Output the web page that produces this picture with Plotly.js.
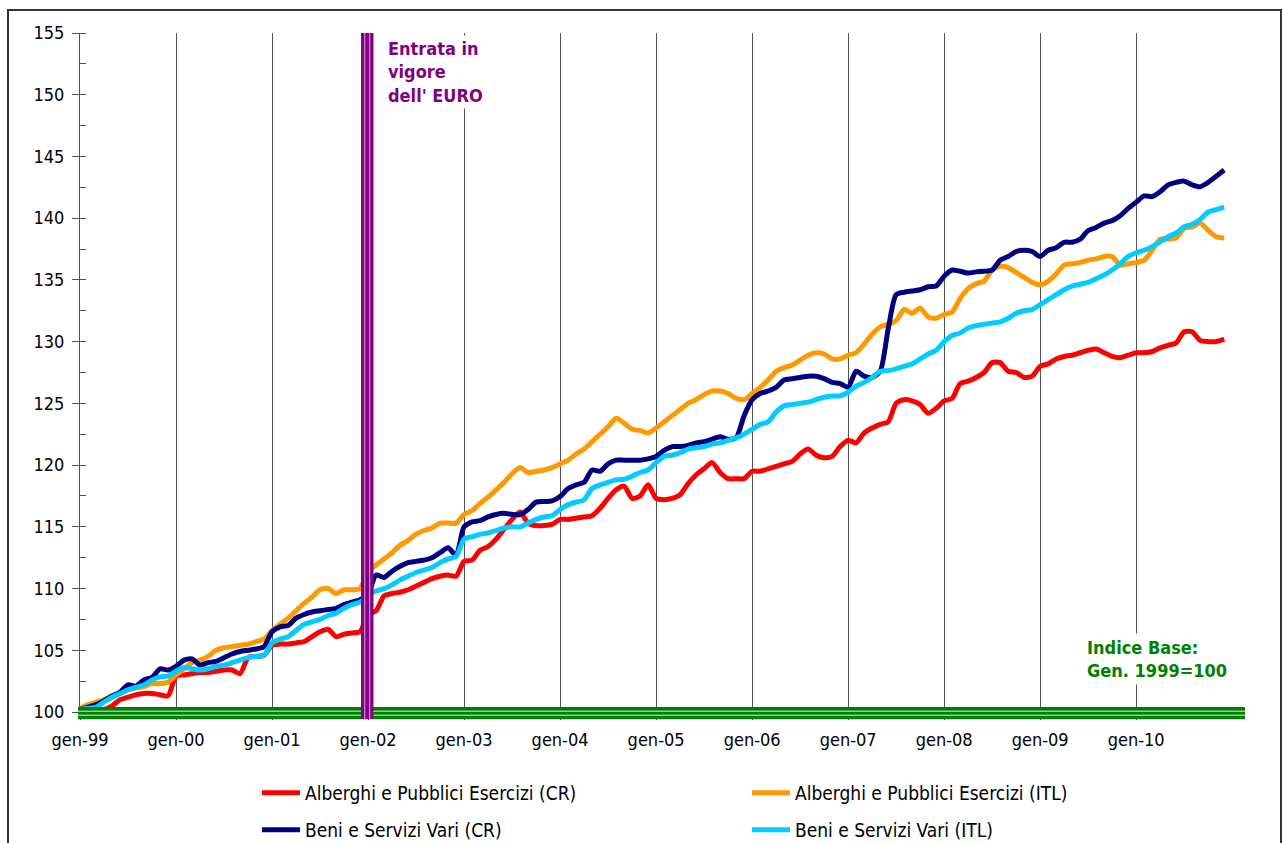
<!DOCTYPE html>
<html>
<head>
<meta charset="utf-8">
<script src="https://cdn.plot.ly/plotly-3.0.1.min.js"></script>
<style>
html,body{margin:0;padding:0;background:#fff;overflow:hidden;}
#chart{width:1284px;height:843px;}
</style>
</head>
<body>
<div id="chart"></div>
<script>
// ---- categories ----
const monthNames = ['gen','feb','mar','apr','mag','giu','lug','ago','set','ott','nov','dic'];
const yearLabels = ['99','00','01','02','03','04','05','06','07','08','09','10'];
const categories = [];
yearLabels.forEach(y => monthNames.forEach(m => categories.push(m + '-' + y)));
const tickLabels = yearLabels.map(y => 'gen-' + y);

// ---- series (index Gen. 1999 = 100) ----
const alberghiCR = [
 100.0,100.0,100.1,100.2,100.5,101.0,101.2,101.4,101.5,101.5,101.4,101.3,
 102.9,103.0,103.1,103.2,103.2,103.3,103.4,103.4,103.1,104.4,104.5,104.6,
 105.4,105.5,105.5,105.6,105.7,106.1,106.5,106.7,106.1,106.3,106.4,106.5,
 107.9,108.2,109.4,109.6,109.7,109.9,110.2,110.5,110.8,111.0,111.1,111.0,
 112.2,112.3,113.1,113.4,114.0,114.8,115.6,116.2,115.3,115.1,115.1,115.2,
 115.6,115.6,115.7,115.8,115.9,116.5,117.3,118.0,118.3,117.3,117.5,118.4,
 117.3,117.2,117.3,117.6,118.5,119.2,119.7,120.2,119.4,118.9,118.9,118.9,
 119.5,119.5,119.7,119.9,120.1,120.3,120.9,121.3,120.8,120.6,120.7,121.5,
 122.0,121.8,122.6,123.0,123.3,123.5,125.0,125.3,125.2,124.9,124.2,124.6,
 125.2,125.4,126.6,126.8,127.1,127.5,128.3,128.3,127.6,127.5,127.1,127.2,
 128.0,128.2,128.6,128.8,128.9,129.1,129.3,129.4,129.1,128.8,128.7,128.9,
 129.1,129.1,129.2,129.5,129.7,129.9,130.8,130.8,130.1,130.0,130.0,130.2
];
const alberghiITL = [
 100.3,100.6,100.8,101.0,101.3,101.5,101.8,101.95,102.05,102.3,102.3,102.4,
 103.0,103.5,104.0,104.2,104.5,105.0,105.2,105.3,105.4,105.5,105.7,105.9,
 106.6,107.1,107.6,108.2,108.8,109.3,109.9,110.0,109.6,109.9,109.9,110.0,
 111.4,111.9,112.4,112.9,113.5,113.9,114.4,114.7,114.9,115.3,115.3,115.3,
 116.0,116.3,116.9,117.4,118.0,118.6,119.3,119.8,119.4,119.5,119.6,119.8,
 120.1,120.4,120.9,121.3,121.9,122.5,123.1,123.8,123.4,122.9,122.8,122.6,
 123.0,123.5,124.0,124.5,125.0,125.3,125.7,126.0,126.0,125.8,125.4,125.3,
 125.8,126.3,126.9,127.6,127.9,128.1,128.5,128.9,129.1,129.0,128.6,128.6,
 128.9,129.1,129.8,130.6,131.2,131.4,131.7,132.6,132.3,132.7,132.0,131.9,
 132.2,132.4,133.5,134.3,134.7,134.9,135.8,136.1,136.0,135.6,135.2,134.8,
 134.6,134.9,135.5,136.2,136.3,136.4,136.6,136.7,136.9,136.9,136.2,136.3,
 136.4,136.6,137.4,138.3,138.3,138.4,139.2,139.3,139.6,139.0,138.5,138.4
];
const beniCR = [
 100.2,100.4,100.6,100.9,101.3,101.6,102.2,102.1,102.6,102.8,103.5,103.4,
 103.7,104.2,104.3,103.8,104.0,104.1,104.4,104.7,104.9,105.0,105.1,105.3,
 106.5,106.9,107.0,107.6,107.9,108.1,108.2,108.3,108.4,108.7,108.9,109.1,
 109.5,111.1,110.9,111.4,111.8,112.1,112.2,112.3,112.5,112.9,113.3,112.7,
 115.0,115.4,115.5,115.8,116.0,116.1,116.0,116.0,116.4,117.0,117.05,117.1,
 117.45,118.1,118.4,118.6,119.6,119.5,120.1,120.4,120.4,120.4,120.4,120.5,
 120.7,121.2,121.5,121.5,121.6,121.8,121.9,122.1,122.3,122.1,122.2,124.0,
 125.3,125.8,126.0,126.3,126.9,127.0,127.1,127.2,127.2,127.0,126.7,126.6,
 126.3,127.6,127.2,127.1,127.6,131.0,133.8,134.0,134.1,134.2,134.45,134.5,
 135.3,135.8,135.7,135.55,135.65,135.7,135.8,136.6,136.9,137.3,137.4,137.3,
 136.9,137.4,137.6,138.05,138.05,138.3,139.0,139.25,139.6,139.8,140.2,140.8,
 141.3,141.8,141.75,142.15,142.7,142.9,143.0,142.7,142.55,142.9,143.4,143.9
];
const beniITL = [
 100.2,100.3,100.4,100.8,101.2,101.5,101.8,102.0,102.2,102.6,102.85,102.9,
 103.3,103.6,103.5,103.4,103.5,103.7,103.8,104.0,104.2,104.4,104.5,104.6,
 105.6,105.9,106.1,106.6,107.1,107.3,107.5,107.8,108.0,108.4,108.7,108.9,
 109.5,109.8,110.0,110.3,110.7,111.0,111.3,111.5,111.7,112.1,112.4,112.6,
 114.0,114.2,114.4,114.5,114.7,114.9,115.0,115.0,115.3,115.6,115.8,115.9,
 116.4,116.8,117.0,117.2,118.1,118.4,118.6,118.8,118.85,119.1,119.4,119.6,
 120.2,120.7,120.8,121.0,121.3,121.4,121.5,121.7,121.8,122.0,122.2,122.5,
 122.9,123.3,123.5,124.3,124.8,124.9,125.0,125.1,125.3,125.5,125.6,125.6,
 125.9,126.4,126.7,127.1,127.6,127.65,127.8,128.0,128.2,128.6,129.0,129.3,
 130.0,130.5,130.7,131.1,131.3,131.4,131.5,131.6,131.9,132.3,132.5,132.6,
 133.0,133.4,133.8,134.2,134.5,134.65,134.8,135.1,135.4,135.8,136.3,136.9,
 137.2,137.4,137.7,138.1,138.5,138.8,139.3,139.5,139.9,140.5,140.7,140.9
];
const seriesNames = [
 'Alberghi e Pubblici Esercizi (CR)',
 'Alberghi e Pubblici Esercizi (ITL)',
 'Beni e Servizi Vari (CR)',
 'Beni e Servizi Vari (ITL)'
];
const yTicks = [100,105,110,115,120,125,130,135,140,145,150,155];
const euroLabel = "Entrata in<br>vigore<br>dell' EURO";
const euroCategory = 'gen-02';
const baseLabel = 'Indice Base:<br>Gen. 1999=100';
const baseValue = 100;

// ---- styling ----
const FONT = "'DejaVu Sans Condensed', 'DejaVu Sans', sans-serif";
const colors = ['#ff0000', '#ff9900', '#000080', '#00ccff'];
const PURPLE = '#800080';
const GREEN = '#008000';

// plot area in pixels: x 80..1245, y 33..712
const L = 80, R = 1245, T = 33, B = 712;
const px = v => (v - L) / (R - L);
const py = v => (B - v) / (B - T);

const legendIds = ['legend', 'legend2', 'legend3', 'legend4'];
const allSeries = [alberghiCR, alberghiITL, beniCR, beniITL];
const traces = allSeries.map((vals, i) => ({
  type: 'scatter', mode: 'lines',
  x: categories, y: vals,
  name: seriesNames[i],
  line: {color: colors[i], width: 5, shape: 'spline', smoothing: 0.7},
  legend: legendIds[i],
  hoverinfo: 'skip'
}));

const euroIdx = categories.indexOf(euroCategory) - 0.1;
const shapes = [];
// green base line (triple)
shapes.push({type:'rect', xref:'paper', yref:'paper', x0:px(78), x1:1, y0:py(719.3), y1:py(707),
  fillcolor:GREEN, line:{width:0}, layer:'above'});
[711.2, 715.2].forEach(v => shapes.push({type:'line', xref:'paper', yref:'paper', x0:px(78), x1:1,
  y0:py(v), y1:py(v), line:{color:'#d8ecd8', width:1}, layer:'above'}));
// purple euro line (triple)
shapes.push({type:'rect', xref:'x', yref:'paper', x0:euroIdx - 0.78, x1:euroIdx + 0.78, y0:py(719), y1:1,
  fillcolor:PURPLE, line:{width:0}, layer:'above'});
[-0.31, 0.31].forEach(d => shapes.push({type:'line', xref:'x', yref:'paper', x0:euroIdx + d, x1:euroIdx + d,
  y0:py(719), y1:1, line:{color:'#dca6dc', width:1}, layer:'above'}));
// outer frame
shapes.push({type:'rect', xref:'paper', yref:'paper', x0:px(8), x1:px(1281), y0:py(860), y1:py(10),
  line:{color:'#333', width:2}, fillcolor:'rgba(0,0,0,0)', layer:'above'});

// legend positions (left edge px, top px)
const legendPos = [[257, 774], [747, 774], [257, 811], [747, 811]];
const legendCommon = {
  orientation: 'h', xanchor: 'left', yanchor: 'top', itemwidth: 38,
  font: {family: FONT, size: 19, color: '#000'}, bgcolor: 'rgba(0,0,0,0)'
};

const layout = {
  width: 1284, height: 843,
  margin: {l: L, r: 1284 - R, t: T, b: 843 - B, autoexpand: false},
  paper_bgcolor: '#fff', plot_bgcolor: '#fff',
  font: {family: FONT, size: 18, color: '#000'},
  showlegend: true,
  xaxis: {
    type: 'category', range: [0, 145.6],
    tickmode: 'array', tickvals: tickLabels, ticktext: tickLabels,
    showgrid: true, gridcolor: '#555', gridwidth: 1,
    zeroline: false, showline: false,
    ticks: 'outside', ticklen: 7, tickcolor: '#555',
    ticklabelstandoff: 4,
    tickfont: {family: FONT, size: 18, color: '#000'}
  },
  yaxis: {
    range: [100, 155], tickmode: 'array', tickvals: yTicks,
    showgrid: false, zeroline: false,
    showline: true, linecolor: '#555', linewidth: 1,
    ticks: 'outside', ticklen: 7, tickcolor: '#555',
    ticklabelstandoff: 4,
    minor: {dtick: 2.5, ticks: 'inside', ticklen: 6, tickcolor: '#555', showgrid: false},
    tickfont: {family: FONT, size: 18, color: '#000'}
  },
  annotations: [
    {text: euroLabel, xref: 'x', yref: 'paper', x: (387 - L) / 8 - 0.2, y: py(35),
     xanchor: 'left', yanchor: 'top', align: 'left', showarrow: false,
     bgcolor: '#fff', borderpad: 2,
     font: {family: FONT, size: 18, color: PURPLE, weight: 700}},
    {text: baseLabel, xref: 'x', yref: 'y', x: (1086 - L) / 8 - 0.4, y: baseValue + (B - 633) / ((B - T) / 55),
     xanchor: 'left', yanchor: 'top', align: 'left', showarrow: false,
     bgcolor: '#fff', borderpad: 3,
     font: {family: FONT, size: 18, color: GREEN, weight: 700}}
  ],
  shapes: shapes,
  hovermode: false
};
legendIds.forEach((id, i) => {
  layout[id] = Object.assign({}, legendCommon, {x: px(legendPos[i][0]), y: py(legendPos[i][1])});
});

Plotly.newPlot('chart', traces, layout, {displayModeBar: false, staticPlot: true});
</script>
</body>
</html>
